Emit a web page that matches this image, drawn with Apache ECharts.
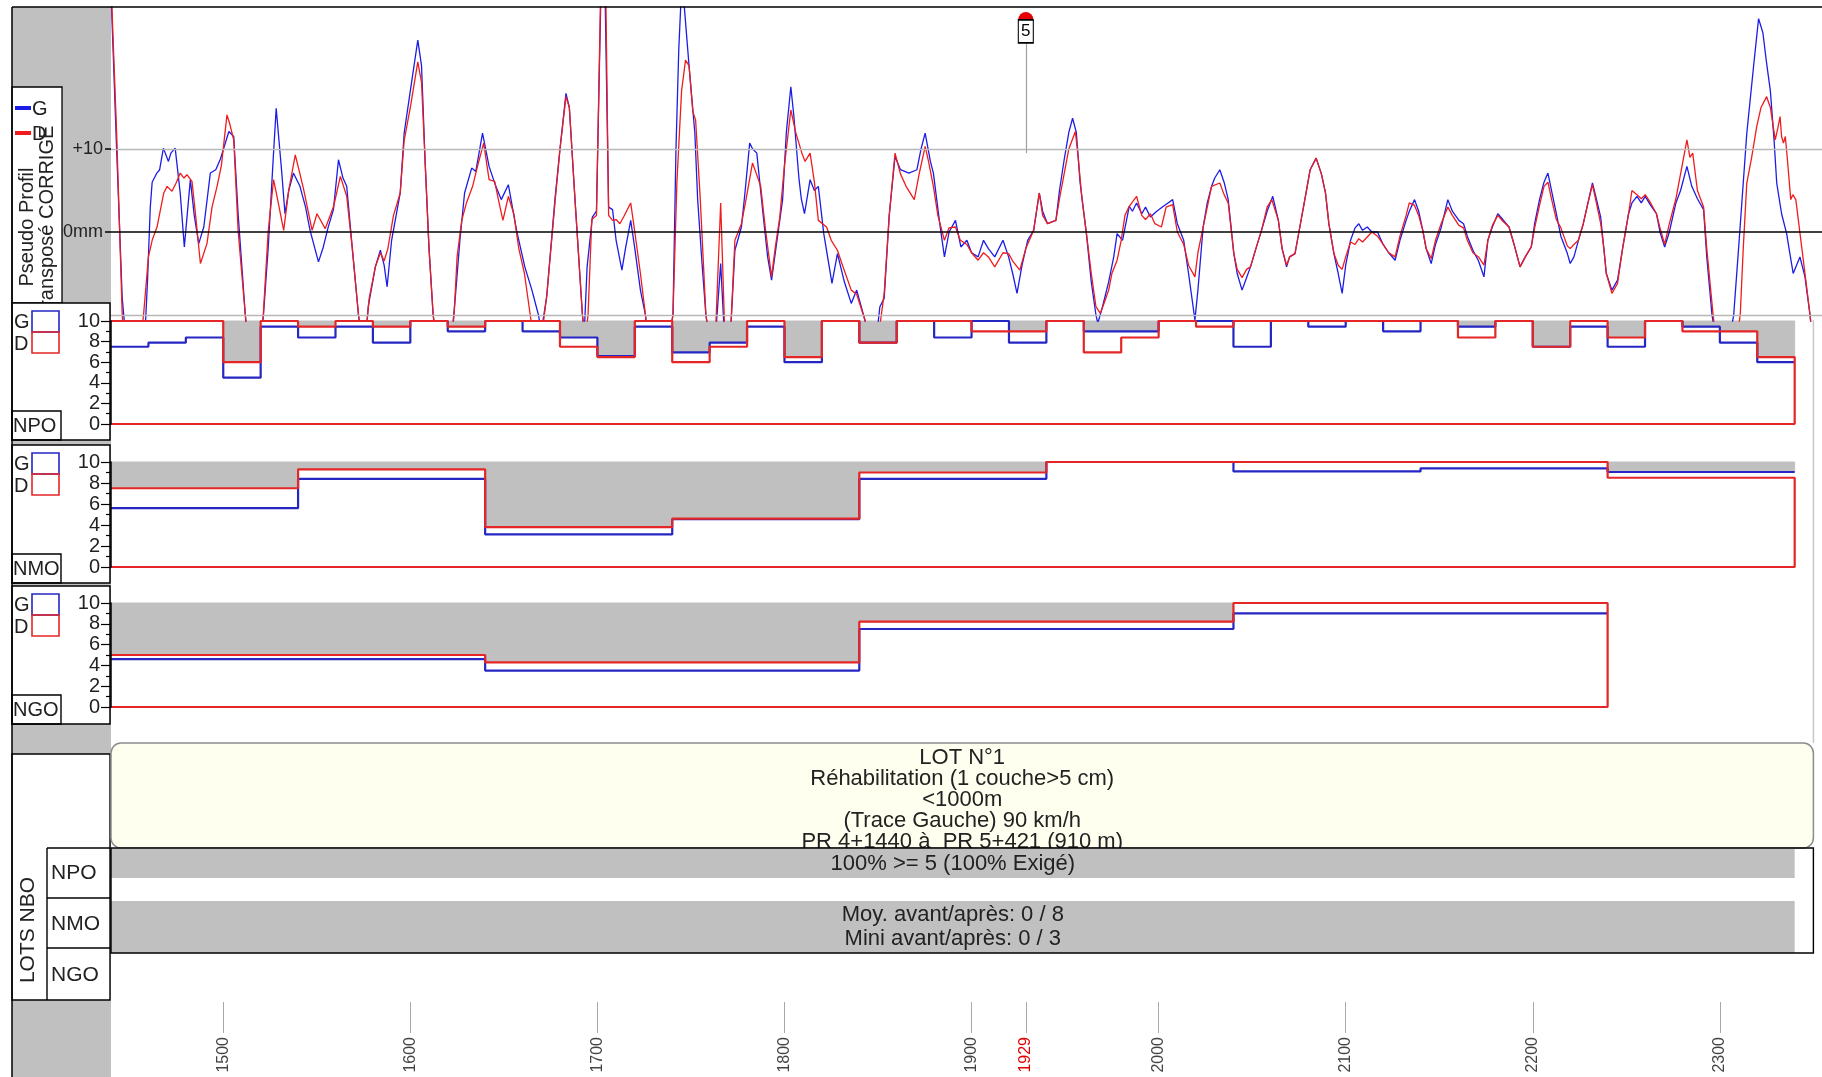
<!DOCTYPE html>
<html>
<head>
<meta charset="utf-8">
<title>Pseudo profil - LOT N°1</title>
<script src="https://cdn.jsdelivr.net/npm/echarts@6.0.0/dist/echarts.min.js"></script>
<style>
  html, body { margin: 0; padding: 0; background: #fff; }
  #main { width: 1822px; height: 1077px; }
</style>
</head>
<body>
<div id="main"></div>
<script>
// abscisses (m)
const lotDebut = 1440
const lotFin = 2350
const mesureFin = 2340
const axeMax = 2354.6
const ticksAbscisse = [1500, 1600, 1700, 1800, 1900, 2000, 2100, 2200, 2300]
const repere = 1929
const repereNom = '5'

// pseudo profil transposé corrigé (mm)
const profilG = [
  [1440, 29], [1443, 10], [1446, -8], [1448, -13],
  [1458, -13], [1459.5, -6], [1461, 3], [1462, 6], [1464.5, 7.1], [1466, 7.5], [1468, 10.1], [1470.7, 8.5], [1472, 9.5], [1474.3, 10.1], [1477, 4.7], [1479.2, -1.8], [1482.4, 6.3], [1484.5, 2], [1486.9, -1.4], [1489.6, 0.6], [1493.1, 7.1], [1496, 7.5], [1498.5, 8.8], [1503, 12.1], [1505.6, 11.5], [1508, 2], [1511.8, -10], [1513, -13],
  [1520, -13], [1521.5, -10], [1524, -2], [1526.5, 8], [1528.3, 14.9], [1531.3, 7.1], [1533, 2.2], [1535, 5], [1537.5, 7.1], [1541, 5.5], [1544, 3], [1546.4, 0.2], [1550.9, -3.6], [1553.5, -1.8], [1556, 0.5], [1558.9, 2.7], [1561.6, 8.7], [1564, 6.5], [1566, 5.5], [1569, -2], [1572.3, -10], [1574, -13],
  [1576, -13], [1577.5, -9], [1581.3, -4.2], [1584, -2.2], [1586, -4], [1587.6, -6.6], [1590, -1], [1594.6, 4.7], [1596.7, 11.9], [1600, 17], [1604, 23.1], [1606, 20], [1608, 8], [1610, -2], [1612.2, -10], [1614, -13],
  [1622, -13], [1624, -8], [1626.5, -1], [1629, 4.7], [1632.8, 7.7], [1635, 7.3], [1638.6, 11.9], [1642.1, 7.9], [1645.7, 5.5], [1648.6, 3.9], [1652.4, 5.7], [1656.8, 0.2], [1661.2, -4.2], [1665, -7], [1668.5, -10], [1670, -12],
  [1672.9, -7.8], [1677.3, 3.9], [1680, 10], [1683.2, 16.7], [1685, 15], [1688, 4], [1692, -10], [1693, -12],
  [1694.5, -4.2], [1697.3, 1.8], [1699.5, 2.5], [1702, 30], [1704, 30], [1706, 3], [1708.1, 2.7], [1710, -1], [1713.1, -4.6], [1715, -2], [1717.8, 1.4], [1720, -2], [1723, -7], [1725.7, -10], [1727, -13],
  [1738, -13], [1740.4, -10], [1742, 10], [1743.5, 22], [1744.8, 28.5], [1746.5, 27], [1749, 20], [1752.1, 11.9], [1753.6, 3.9], [1756, -4], [1758, -10], [1760, -13],
  [1763, -13], [1765.9, -3.8], [1768, -13],
  [1771.2, -12], [1773.5, -2.2], [1777, 0.6], [1779, 5], [1781.4, 10.7], [1783, 10], [1785.2, 9.5], [1788.7, 1.8], [1791, -3], [1793.1, -5.8], [1796, -1], [1799, 3.9], [1801, 12], [1803.4, 17.5], [1805, 14], [1807.8, 6.3], [1809, 4], [1810.7, 2.2], [1813.7, 6.3], [1816, 5], [1818.1, 5.5], [1821, -0.2], [1825.4, -6.2], [1828.3, -2.6], [1832, -6], [1835.7, -8.6], [1838.6, -7], [1843, -10.6], [1845, -13],
  [1849, -13], [1851, -9], [1853.3, -8], [1856, 2], [1859.1, 9.1], [1862, 7.5], [1866.5, 7.1], [1870.8, 7.5], [1873, 10], [1875.2, 11.9], [1878, 8.5], [1879.6, 7.1], [1883, 1], [1885.5, -3], [1888, 0], [1891.4, 1.4], [1894.3, -1.8],
  [1897.5, -1], [1900, -2.5], [1903.5, -3], [1906.4, -1], [1909, -2], [1912.4, -3], [1916.8, -1], [1919.8, -3], [1922, -5], [1924.3, -7.4], [1927, -4], [1930, -1], [1933.2, 0.2], [1936.2, 4.7], [1938, 2.5], [1940.6, 1], [1945.1, 1.4], [1947, 5], [1949.5, 8.7], [1952, 12], [1954, 13.7], [1956, 12], [1958, 6], [1961.4, -0.2], [1964, -6], [1966.5, -10], [1967.5, -11],
  [1970, -9], [1973.3, -6], [1976, -3], [1977.8, -0.2], [1980.7, -1], [1984.3, 3.1], [1986, 2.5], [1988.2, 3.5], [1991, 2.2], [1993, 3], [1995.6, 1.8], [1999, 2.5], [2002, 3], [2005, 3.5], [2007.5, 3.9], [2010, 1], [2013.4, -1], [2016, -5], [2019.4, -10.6], [2021, -7], [2023.8, 0.6], [2026, 3.5], [2028.3, 5.5], [2030, 6.5], [2032.7, 7.5], [2035, 6], [2037.2, 3.9], [2040.2, -2.6], [2042, -5], [2044.6, -7], [2047, -5.5], [2049.1, -4.2], [2052, -2], [2055, 0.2], [2058, 2.5], [2061, 4.3], [2064, 1.4], [2066, -2], [2068.4, -4.2], [2070, -3], [2072.9, -2.6], [2075, 0], [2078.8, 4.7], [2081, 7.5], [2084.2, 8.9], [2087, 7], [2089.2, 4.7], [2091, 1], [2093.7, -2.6], [2096, -5], [2098.1, -7.4], [2100, -4], [2102.6, -1], [2105, 0.5], [2107, 1], [2109, 0.2], [2111.5, 0.6], [2114, 0], [2117, 0], [2120, -1.5], [2123, -2.5], [2126.4, -3.4], [2129, -1], [2132.3, 1.4], [2134, 2.5], [2136.8, 3.9], [2139, 2.5], [2141.2, 0.2], [2143, -2], [2145.7, -3.8], [2148, -1.5], [2151, 0.5], [2154.6, 3.9], [2157, 2.5], [2160.5, 1.4], [2163, 1], [2165, -0.5], [2168, -2.2], [2171, -3.5], [2173.9, -5.4], [2176, -1], [2178.4, 0.6], [2181.3, 2.2], [2184, 1.5], [2187.3, 0.6], [2190, -1.5], [2193.2, -4.2], [2196, -3], [2199.2, -1.8], [2201, 1], [2203.6, 3.9], [2206, 6], [2208.1, 7.1], [2210, 5], [2212.6, 2.2], [2215, -0.5], [2218.5, -2.6], [2220, -3.8], [2222, -3], [2224.4, -1], [2227, 1], [2229.5, 3.5], [2231.9, 5.9], [2234, 4], [2236.3, 1.8], [2238, -2], [2239.3, -5], [2242.3, -7], [2245.3, -5.8], [2248, -2], [2251.2, 2.2], [2253, 3.5], [2255.7, 4.3], [2258, 3.5], [2260.1, 4.3], [2263, 3.2], [2266.1, 2.2], [2268, 0], [2270.5, -1.8], [2273, 0], [2276.5, 3.5], [2279, 5], [2282.4, 7.9], [2285, 5.5], [2288, 4], [2291.3, 2.7], [2293, -3], [2295.8, -10], [2298, -13],
  [2305, -13], [2307.4, -10], [2310, -2], [2314.4, 11.9], [2318, 19.9], [2320.7, 25.7], [2323, 24], [2325, 20.3], [2327, 17], [2329, 11], [2330.4, 5.9], [2333, 2.2], [2335.7, -0.2], [2337, -2], [2339.2, -5], [2341, -4], [2342.8, -3], [2345.5, -5.4], [2348.2, -10], [2349.5, -13]
]
const profilD = [
  [1440, 30], [1443, 12], [1446, -10], [1447, -13],
  [1456, -13], [1457.4, -10], [1460, -3], [1462, -1], [1464.6, 0.6], [1468.2, 4.7], [1470, 5.5], [1472.6, 4.9], [1475, 6], [1477, 7.1], [1479, 6.5], [1480.6, 6.9], [1483.3, 6.1], [1485, 2.5], [1487.8, -3.8], [1491.3, -1.4], [1494, 3], [1496.7, 5.5], [1499, 8], [1502, 14.1], [1503.5, 13], [1505.6, 11.1], [1508, 0], [1511.8, -10], [1513, -13],
  [1520, -13], [1521.4, -10], [1524, 0], [1526.9, 6.3], [1529, 4], [1532.3, 0.2], [1535, 5], [1538.5, 9.3], [1541, 7], [1543, 5.1], [1547.5, 0.2], [1550.1, 2.2], [1554.5, 0.4], [1559, 3.1], [1562.6, 6.7], [1566, 4.3], [1569, -2], [1572.3, -10], [1574, -13],
  [1576, -13], [1578, -8], [1581.3, -4.2], [1584, -2.5], [1586, -3.5], [1588, -2], [1591, 2], [1594.6, 4.7], [1596.7, 11], [1600, 15], [1604, 20.5], [1606, 18], [1608, 8], [1610, -2], [1612.2, -10], [1614, -13],
  [1622, -13], [1623.4, -10], [1625, -3], [1627.5, 1.4], [1630, 3.5], [1633.3, 5.5], [1636, 8], [1639.2, 10.7], [1642.1, 6.3], [1645.1, 6.1], [1647, 4], [1649.5, 1.4], [1652.4, 4.3], [1655.3, 2.2], [1658, -2], [1661, -5], [1664.1, -10], [1666, -13],
  [1670, -13], [1673, -7.5], [1677.3, 3.5], [1680, 10], [1683.2, 16.3], [1685, 15], [1688, 4], [1692, -10], [1693.5, -13],
  [1695, -10], [1697, 1.5], [1699.5, 2], [1702, 32], [1704.3, 32], [1706, 2], [1708.1, 1.4], [1710, 1.5], [1712, 1], [1714, 1.8], [1717.8, 3.5], [1720, 0], [1723, -5], [1725.7, -10], [1727, -13],
  [1738, -13], [1740.4, -10], [1742.5, 6], [1745, 17], [1747.1, 20.7], [1749, 20], [1751, 14.5], [1752.5, 13.5], [1755, 3.9], [1756.5, -3], [1758, -10], [1760, -13],
  [1763, -13], [1765.9, 3.5], [1768.2, -13],
  [1771.2, -12], [1773.5, -1], [1777, 1], [1779.5, 4], [1782.9, 8.3], [1785, 7], [1787.3, 5.5], [1790, 0], [1793.1, -5.4], [1795, -2], [1797.5, 1.8], [1800, 8], [1803.4, 14.7], [1806, 12], [1809.3, 9.5], [1811, 8.5], [1813.7, 9.5], [1816, 6], [1818.1, 1.4], [1822.5, 0.6], [1825, -1], [1828.3, -2.2], [1831, -4], [1835.7, -7], [1838.6, -7.5], [1843, -10.6], [1845, -13],
  [1850, -13], [1853.3, -7.4], [1856, 2], [1859.1, 9.5], [1862, 7], [1865, 5.5], [1869.4, 3.9], [1872, 7], [1875.2, 10.3], [1877, 8.5], [1879.6, 5.5], [1882, 2], [1885.5, -1], [1888, 0.5], [1891.4, 0.6], [1894, -1], [1897.5, -1.5], [1900, -2.5], [1903.5, -3.4], [1906.4, -2.5], [1909, -3], [1912.4, -4.2], [1916.8, -2.5], [1919.8, -2.6], [1922, -3.5], [1925.8, -4.6], [1929, -2], [1933.2, 0.2], [1936.2, 4.7], [1938, 2], [1940.6, 1], [1945.1, 1.4], [1947, 4], [1949.5, 7], [1952, 10], [1955.5, 12.1], [1957, 9], [1959, 4], [1961.4, -0.2], [1964, -5], [1966.5, -9], [1968.8, -9.8], [1971, -8.5], [1973.3, -7], [1975, -5], [1977.8, -3.4], [1980, -1], [1982, 2], [1984.3, 3.1], [1988.2, 4.3], [1991, 2], [1993, 1.5], [1995.6, 2.2], [1998, 1], [2001.5, 0.6], [2004, 3], [2007.5, 3.3], [2010, 0], [2013.4, -1.5], [2016, -4], [2019.4, -5.4], [2021, -2.5], [2023.8, 0.6], [2026, 3], [2028.3, 5.5], [2032.7, 5.9], [2035, 4.5], [2037.2, 3.5], [2040.2, -2.6], [2042, -4.5], [2044.6, -5.5], [2047, -4.5], [2049.1, -4.2], [2052, -2], [2055, 0.2], [2058, 3], [2060.5, 3.9], [2064, 1.4], [2066, -2], [2068.4, -4], [2070, -3], [2072.9, -2.6], [2075, 0], [2078.8, 4.7], [2081, 7.5], [2084.2, 8.9], [2087, 7], [2089.2, 4.7], [2091, 1], [2093.7, -2.6], [2096, -4], [2098.1, -4.5], [2100, -3], [2102.6, -1.2], [2105, -1.5], [2107, -0.8], [2109, -1.2], [2111.5, -0.6], [2114, 0], [2117, -0.5], [2120, -1.5], [2123, -2.5], [2126.4, -3], [2129, -0.5], [2132.3, 2], [2134, 3.5], [2136.8, 3.2], [2139, 2], [2141.2, 0.2], [2143, -2], [2145.7, -3.2], [2148, -1], [2151, 1], [2154.6, 3], [2157, 2], [2160.5, 0.8], [2163, 0.5], [2165, -1], [2168, -2.5], [2171, -3], [2173.9, -4], [2176, -1], [2178.4, 0.8], [2181.3, 2], [2184, 1.3], [2187.3, 0.6], [2190, -1.5], [2193.2, -4.2], [2196, -3], [2199.2, -1.8], [2201, 0.5], [2203.6, 3.2], [2206, 5.5], [2208.1, 6], [2210, 4], [2212.6, 1.5], [2215, 0.5], [2218.5, -1.7], [2220, -2], [2222, -1.5], [2224.4, -1], [2227, 1], [2229.5, 3.5], [2231.9, 5.7], [2234, 3.5], [2236.3, 1], [2238, -2], [2239.3, -5], [2242.3, -7.4], [2245.3, -6.2], [2248, -2], [2251.2, 2.2], [2253, 5], [2255.7, 4.5], [2258, 4], [2260.1, 4.5], [2263, 3.5], [2266.1, 2.2], [2268, 0.5], [2270.5, -1.5], [2273, 1], [2276.5, 4], [2279, 7], [2282.4, 11.1], [2284, 9], [2285.5, 9.5], [2288, 5], [2291.3, 3], [2293, -2], [2296.4, -10], [2298, -13],
  [2309, -13], [2310.9, -10], [2312.5, -2], [2314.4, 5.9], [2317, 9], [2319.7, 12.7], [2322, 15], [2325, 16.3], [2327, 15], [2329.6, 11.1], [2331, 12.5], [2332.2, 13.9], [2333, 11.5], [2334, 10.7], [2335, 11.5], [2336, 9], [2337.9, 3.9], [2339, 4.5], [2340.6, 3.9], [2343.3, -1], [2345.5, -5], [2348.2, -10], [2349.5, -13]
]

// NPO (pas de 20 m)
const npoBornes = [1440, 1460, 1480, 1500, 1520, 1540, 1560, 1580, 1600, 1620, 1640, 1660, 1680, 1700, 1720, 1740, 1760, 1780, 1800, 1820, 1840, 1860, 1880, 1900, 1920, 1940, 1960, 1980, 2000, 2020, 2040, 2060, 2080, 2100, 2120, 2140, 2160, 2180, 2200, 2220, 2240, 2260, 2280, 2300, 2320, 2340]
const npoG = [7.5, 7.9, 8.4, 4.5, 9.45, 8.4, 9.45, 7.9, 10, 9.0, 10, 9.0, 8.4, 6.6, 9.45, 6.95, 7.9, 9.45, 6.0, 10, 7.9, 10, 8.4, 10, 7.9, 10, 9.0, 9.0, 10, 10, 7.5, 10, 9.45, 10, 9.0, 10, 9.45, 10, 7.5, 9.45, 7.5, 10, 9.45, 7.9, 6.0]
const npoD = [10, 10, 10, 6.0, 10, 9.45, 10, 9.45, 10, 9.45, 10, 10, 7.5, 6.5, 10, 6.0, 7.5, 10, 6.5, 10, 7.9, 10, 10, 9.0, 9.0, 10, 6.95, 8.4, 10, 9.45, 10, 10, 10, 10, 10, 10, 8.4, 10, 7.5, 10, 8.4, 10, 9.0, 9.0, 6.5]
// NMO (pas de 100 m)
const nmoBornes = [1440, 1540, 1640, 1740, 1840, 1940, 2040, 2140, 2240, 2340]
const nmoG = [5.6, 8.4, 3.1, 4.55, 8.4, 10, 9.1, 9.4, 9.05]
const nmoD = [7.5, 9.3, 3.8, 4.6, 9.0, 10, 10, 10, 8.5]
// NGO (pas de 200 m)
const ngoBornes = [1440, 1640, 1840, 2040, 2240]
const ngoG = [4.6, 3.5, 7.5, 9.0]
const ngoD = [5.0, 4.3, 8.2, 10]

const lotLignes = ['LOT N°1', 'Réhabilitation (1 couche>5 cm)', '<1000m', '(Trace Gauche) 90 km/h', 'PR 4+1440 à  PR 5+421 (910 m)']
const npoTexte = '100% >= 5 (100% Exigé)'
const nmoTextes = ['Moy. avant/après: 0 / 8', 'Mini avant/après: 0 / 3']

const FONT = '"Liberation Sans", Arial, sans-serif'
const GRIS = '#c0c0c0'
const BLEU = '#1c1ce8'
const ROUGE = '#f01c1c'

const panneaux = [
  {nom: 'NPO', bornes: npoBornes, g: npoG, d: npoD},
  {nom: 'NMO', bornes: nmoBornes, g: nmoG, d: nmoD},
  {nom: 'NGO', bornes: ngoBornes, g: ngoG, d: ngoD}
]
// mise en page des panneaux (px)
const panneauxGrille = [{top: 321, height: 103}, {top: 462, height: 105}, {top: 603, height: 104}]
const panneauxBoite = [[303, 440], [445, 583], [586, 724]]

function marches(bornes, vals) {
  const pts = []
  vals.forEach((v, i) => {
    pts.push([bornes[i], v], [bornes[i + 1], v])
  })
  return pts
}
function marchesFermees(bornes, vals) {
  const pts = marches(bornes, vals)
  pts.push([bornes[bornes.length - 1], 0], [bornes[0], 0])
  return pts
}
function zonesGrises(bornes, g, d) {
  const out = []
  g.forEach((v, i) => {
    const m = Math.max(v, d[i])
    if (m < 10) out.push([{coord: [bornes[i], m]}, {coord: [bornes[i + 1], 10]}])
  })
  return out
}

const myChart = echarts.init(document.getElementById('main'))

const grids = [
  {left: 111, right: 0, top: 7, height: 314},
  ...panneauxGrille.map(p => ({left: 111, right: 0, top: p.top, height: p.height})),
  {left: 111, right: 0, top: 1000, height: 33}
].map(g => Object.assign(g, {outerBoundsMode: 'none', containLabel: false}))

const xAxes = grids.map((g, i) => ({
  type: 'value', gridIndex: i, min: lotDebut, max: axeMax, show: i === 4,
  axisLine: {show: false},
  splitLine: {show: false},
  axisTick: {show: true, inside: true, length: 31, customValues: [...ticksAbscisse, repere], lineStyle: {color: '#a8a8a8'}},
  axisLabel: {
    customValues: [...ticksAbscisse, repere], rotate: 90, margin: 4, fontSize: 16, fontFamily: FONT,
    formatter: v => String(v),
    color: v => Number(v) === repere ? '#e00000' : '#444'
  }
}))

const yAxes = [
  {
    type: 'value', gridIndex: 0, min: -10.72, max: 27.1, z: 10,
    axisLine: {show: false}, splitLine: {show: false},
    axisTick: {show: true, customValues: [0, 10], length: 6, lineStyle: {color: '#000', width: 1.5}},
    axisLabel: {customValues: [0, 10], margin: 8, fontSize: 18, fontFamily: FONT, color: '#222',
      formatter: v => Number(v) === 10 ? '+10' : '0mm'}
  },
  ...panneaux.map((p, k) => ({
    type: 'value', gridIndex: k + 1, min: 0, max: 10, interval: 2, z: 10,
    axisLine: {show: true, lineStyle: {color: '#000', width: 1.5}},
    splitLine: {show: false},
    axisTick: {show: true, length: 10, lineStyle: {color: '#000', width: 1.2}},
    minorTick: {show: true, splitNumber: 2, length: 5, lineStyle: {color: '#000', width: 1.2}},
    axisLabel: {margin: 11, fontSize: 20, fontFamily: FONT, color: '#222', showMinLabel: true, showMaxLabel: true, hideOverlap: false}
  })),
  {type: 'value', gridIndex: 4, min: 0, max: 1, show: false}
]

const series = [
  {
    name: 'G', type: 'line', xAxisIndex: 0, yAxisIndex: 0, data: profilG,
    showSymbol: false, z: 3, lineStyle: {color: BLEU, width: 1.3}, itemStyle: {color: BLEU},
    markLine: {
      silent: true, symbol: ['none', 'none'], label: {show: false},
      data: [
        {yAxis: 10, lineStyle: {color: '#b8b8b8', width: 1.3, type: 'solid'}},
        {yAxis: 0, lineStyle: {color: '#000', width: 1.6, type: 'solid'}},
        {yAxis: -10, lineStyle: {color: '#b8b8b8', width: 1.3, type: 'solid'}}
      ]
    }
  },
  {
    name: 'D', type: 'line', xAxisIndex: 0, yAxisIndex: 0, data: profilD,
    showSymbol: false, z: 4, lineStyle: {color: ROUGE, width: 1.3}, itemStyle: {color: ROUGE}
  },
  {
    // repère PR 5
    type: 'line', xAxisIndex: 0, yAxisIndex: 0, data: [[repere, 9.5]], showSymbol: false,
    lineStyle: {width: 0}, z: 5,
    markLine: {
      silent: true, symbol: ['none', 'none'], label: {show: false},
      lineStyle: {color: '#a0a0a0', width: 1.2, type: 'solid'},
      data: [[{coord: [repere, 22.8]}, {coord: [repere, 9.5]}]]
    },
    markPoint: {
      silent: true,
      data: [
        {coord: [repere, 25.6], symbol: 'circle', symbolSize: 15, itemStyle: {color: '#e80000'}, label: {show: false}},
        {coord: [repere, 24.16], symbol: 'rect', symbolSize: [15, 23],
          itemStyle: {color: '#fff', borderColor: '#000', borderWidth: 1.3},
          label: {show: true, position: 'inside', formatter: repereNom, color: '#000', fontSize: 17, fontFamily: FONT}}
      ]
    }
  }
]

panneaux.forEach((p, k) => {
  series.push({
    name: p.nom + ' G', type: 'line', xAxisIndex: k + 1, yAxisIndex: k + 1,
    data: marches(p.bornes, p.g), showSymbol: false, clip: false, z: 3,
    lineStyle: {color: '#2626c4', width: 2.2},
    markArea: {silent: true, itemStyle: {color: GRIS, opacity: 1, borderColor: GRIS, borderWidth: 1}, data: zonesGrises(p.bornes, p.g, p.d)}
  })
  series.push({
    name: p.nom + ' D', type: 'line', xAxisIndex: k + 1, yAxisIndex: k + 1,
    data: marchesFermees(p.bornes, p.d), showSymbol: false, clip: false, z: 4,
    lineStyle: {color: '#e42626', width: 2.2}
  })
})
series.push({type: 'line', xAxisIndex: 4, yAxisIndex: 4, data: []})

let option = {
  animation: false,
  grid: grids,
  xAxis: xAxes,
  yAxis: yAxes,
  series: series
}
myChart.setOption(option)

// cadres, légendes et textes
const px = v => myChart.convertToPixel({xAxisIndex: 0}, v)
const texte = (text, x, y, o = {}) => ({
  type: 'text', x: x, y: y, z: o.z || 7, rotation: o.rotation || 0,
  style: {
    text: text, fill: o.color || '#222', font: (o.size || 21) + 'px ' + FONT,
    align: o.align || 'left', verticalAlign: 'middle',
    textAlign: o.align || 'left', textVerticalAlign: 'middle'
  }
})
const rect = (x, y, w, h, st, z, r) => ({type: 'rect', z: z, shape: {x: x, y: y, width: w, height: h, r: r || 0}, style: st})
const ligne = (x1, y1, x2, y2, st, z) => ({type: 'line', z: z, shape: {x1: x1, y1: y1, x2: x2, y2: y2}, style: st})

const x0 = px(lotDebut)
const xFin = px(lotFin)
const xMes = px(mesureFin)
const xMil = (x0 + xFin) / 2
const xMilMes = (x0 + xMes) / 2
const noir = {fill: null, stroke: '#000', lineWidth: 1.4}

const els = [
  rect(12, 7, 99, 1070, {fill: GRIS}, 0),
  ligne(xFin, 320, xFin, 743, {stroke: '#c8c8c8', lineWidth: 1.5}, 1),
  // légende profil
  rect(12, 87, 50, 216, {fill: '#fff', stroke: '#000', lineWidth: 1.3}, 3),
  ligne(15, 108, 31, 108, {stroke: BLEU, lineWidth: 4}, 6),
  texte('G', 32, 109, {z: 6, size: 20}),
  ligne(15, 133, 31, 133, {stroke: ROUGE, lineWidth: 4}, 6),
  texte('D', 32, 134, {z: 6, size: 20}),
  texte('Pseudo Profil', 27, 227, {rotation: Math.PI / 2, align: 'center', z: 4, size: 20}),
  texte('Transposé CORRIGE', 47, 222, {rotation: Math.PI / 2, align: 'center', z: 4, size: 20}),
  ligne(12, 7, 1822, 7, {stroke: '#000', lineWidth: 1.5}, 20),
  ligne(12, 7, 12, 1077, {stroke: '#000', lineWidth: 1.5}, 20)
]

panneaux.forEach((p, k) => {
  const [h, b] = panneauxBoite[k]
  els.push(rect(12, h, 98, b - h, {fill: '#fff', stroke: '#000', lineWidth: 1.5}, 5))
  els.push(texte('G', 14, h + 19, {z: 6, size: 20}))
  els.push(rect(32, h + 8, 27, 21, {fill: null, stroke: '#2626c4', lineWidth: 1.6}, 6))
  els.push(texte('D', 14, h + 41, {z: 6, size: 20}))
  els.push(rect(32, h + 29, 27, 21, {fill: null, stroke: '#e42626', lineWidth: 1.6}, 6))
  els.push(rect(12, b - 29, 49, 29, noir, 6))
  els.push(texte(p.nom, 13, b - 14, {z: 7, size: 20}))
})

// bloc LOTS NBO
els.push(rect(12, 754, 98, 246, {fill: '#fff', stroke: '#000', lineWidth: 1.4}, 5))
els.push(ligne(47, 848, 47, 1000, {stroke: '#000', lineWidth: 1.4}, 6))
;[848, 898, 948].forEach(y => els.push(ligne(47, y, 110, y, {stroke: '#000', lineWidth: 1.4}, 6)))
els.push(texte('LOTS NBO', 28, 930, {rotation: Math.PI / 2, align: 'center', z: 7}))
panneaux.forEach((p, k) => els.push(texte(p.nom, 51, 873 + k * 51, {z: 7})))

els.push(rect(x0, 743, xFin - x0, 105, {fill: '#fffff0', stroke: '#8c8c8c', lineWidth: 1.5}, 5, 10))
lotLignes.forEach((t, i) => els.push(texte(t, xMil, 758 + i * 21, {align: 'center', z: 6, size: 22})))
els.push(rect(x0, 848, xMes - x0, 30, {fill: GRIS}, 8))
els.push(texte(npoTexte, xMilMes, 864, {align: 'center', z: 9, size: 22}))
els.push(rect(x0, 878, xFin - x0, 23, {fill: '#fff'}, 8))
els.push(rect(x0, 901, xMes - x0, 52, {fill: GRIS}, 8))
nmoTextes.forEach((t, i) => els.push(texte(t, xMilMes, 915 + i * 24, {align: 'center', z: 9, size: 22})))
els.push(rect(x0, 848, xFin - x0, 105, noir, 10))

myChart.setOption({graphic: [{elements: els}]})
</script>
</body>
</html>
